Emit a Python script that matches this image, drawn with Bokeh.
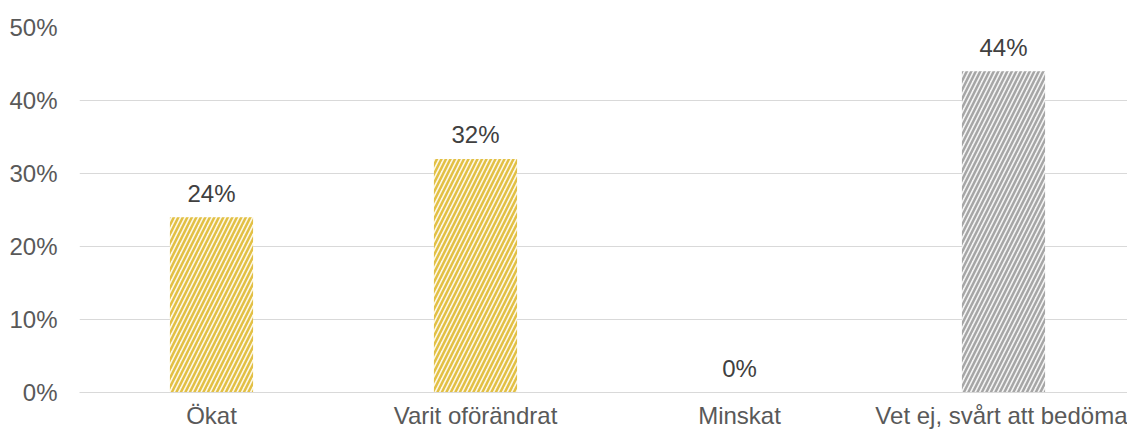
from bokeh.plotting import figure
from bokeh.models import ColumnDataSource, FixedTicker, NumeralTickFormatter, Range1d
from bokeh.embed import file_html
from bokeh.resources import INLINE
from bokeh.core.properties import value

categories = ["Ökat", "Varit oförändrat", "Minskat", "Vet ej, svårt att bedöma"]
values = [0.24, 0.32, 0.0, 0.44]
labels = ["24%", "32%", "0%", "44%"]
hatch_colors = ["#E2C044", "#E2C044", "#E2C044", "#A6A6A6"]
fill_colors = ["#FDF8E8", "#FDF8E8", "#FDF8E8", "#F4F4F4"]
y_ticks = [0, 0.1, 0.2, 0.3, 0.4, 0.5]

xs = [i + 0.5 for i in range(len(categories))]
src = ColumnDataSource(dict(x=xs, val=values, lab=labels, hc=hatch_colors, fc=fill_colors))

p = figure(x_range=Range1d(0, 1048 / 264), y_range=Range1d(0, 0.5),
           width=1127, height=432, output_backend="svg", toolbar_location=None,
           min_border_left=79, min_border_right=0, min_border_top=27, min_border_bottom=40)
p.outline_line_color = None

p.vbar(x="x", top="val", width=0.315, source=src, line_color=None,
       fill_color="fc", hatch_pattern="/", hatch_color="hc",
       hatch_scale=9, hatch_weight=2.5)

p.text(x="x", y="val", text="lab", source=src, y_offset=-24,
       text_align="center", text_baseline="middle", text_font=value("Liberation Sans"),
       text_font_size="24px", text_color="#404040")

p.xgrid.grid_line_color = None
p.ygrid.grid_line_color = "#D9D9D9"
p.ygrid.ticker = FixedTicker(ticks=y_ticks)

p.yaxis.ticker = FixedTicker(ticks=y_ticks)
p.yaxis.formatter = NumeralTickFormatter(format="0%")
p.yaxis.axis_line_color = None
p.yaxis.major_tick_line_color = None
p.yaxis.minor_tick_line_color = None
p.yaxis.major_tick_out = 0
p.yaxis.major_label_standoff = 22
p.yaxis.major_label_text_font = "Liberation Sans"
p.yaxis.major_label_text_font_size = "24px"
p.yaxis.major_label_text_color = "#595959"

p.xaxis.ticker = FixedTicker(ticks=xs)
p.xaxis.major_label_overrides = {x: c for x, c in zip(xs, categories)}
p.xaxis.axis_line_color = "#D9D9D9"
p.xaxis.major_tick_line_color = None
p.xaxis.minor_tick_line_color = None
p.xaxis.major_tick_out = 0
p.xaxis.major_label_standoff = 9
p.xaxis.major_label_text_font = "Liberation Sans"
p.xaxis.major_label_text_font_size = "24px"
p.xaxis.major_label_text_color = "#595959"

open("out.html", "w").write(file_html(p, INLINE))
